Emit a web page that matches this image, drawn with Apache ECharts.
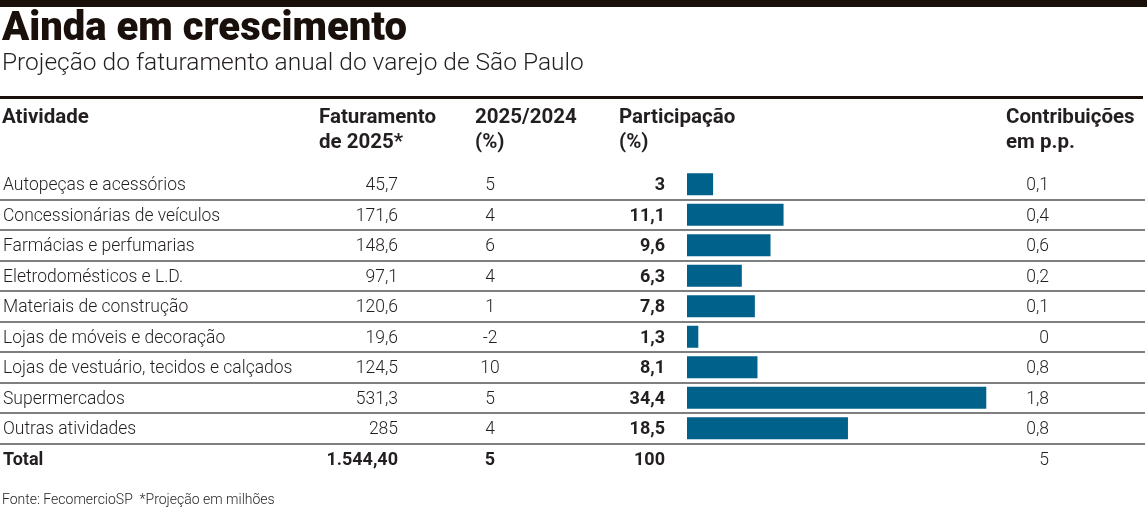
<!DOCTYPE html>
<html>
<head>
<meta charset="utf-8">
<script src="https://cdn.jsdelivr.net/npm/echarts@6/dist/echarts.min.js"></script>
<style>
  html, body { margin: 0; padding: 0; background: #fff; }
  #main { width: 1147px; height: 509px; }
</style>
</head>
<body>
<div id="main"></div>
<script>
const atividades = [
    "Autopeças e acessórios",
    "Concessionárias de veículos",
    "Farmácias e perfumarias",
    "Eletrodomésticos e L.D.",
    "Materiais de construção",
    "Lojas de móveis e decoração",
    "Lojas de vestuário, tecidos e calçados",
    "Supermercados",
    "Outras atividades",
    "Total",
];
const faturamento = ["45,7", "171,6", "148,6", "97,1", "120,6", "19,6", "124,5", "531,3", "285", "1.544,40"];
const variacao = ["5", "4", "6", "4", "1", "-2", "10", "5", "4", "5"];
const participacao = [3, 11.1, 9.6, 6.3, 7.8, 1.3, 8.1, 34.4, 18.5, 100];
const contribuicao = ["0,1", "0,4", "0,6", "0,2", "0,1", "0", "0,8", "1,8", "0,8", "5"];

const chartDom = document.getElementById("main");
const myChart = echarts.init(chartDom);

const FONT = "Roboto, sans-serif";
const INK = "#231f20";
const TOP = 169;
const HEIGHT = 305;
const SIZE = 17.5;
const lastRow = atividades.length - 1;

// comma as decimal mark
const br = (v) => String(v).replace(".", ",");

const boldStyle = { fontFamily: FONT, fontSize: SIZE + 0.5, color: INK, fontWeight: "bold" };

const rowLabel = (bold, extra) => ({
    fontFamily: FONT,
    fontSize: SIZE,
    color: INK,
    fontWeight: 300,
    padding: [3, 0, 0, 0],
    formatter: (value, index) =>
        index === lastRow || bold ? "{b|" + value + "}" : value,
    rich: { b: boldStyle },
    ...extra,
});

const catAxis = (gridIndex, data, label, extra) => ({
    type: "category",
    gridIndex: gridIndex,
    data: data,
    inverse: true,
    axisLine: { show: false },
    axisTick: { show: false },
    axisLabel: label,
    ...extra,
});

const hiddenX = (gridIndex, extra) => ({
    type: "value",
    gridIndex: gridIndex,
    show: false,
    ...extra,
});

// split line colours: no rule above first row or below total
const ruleColors = [];
for (let i = 0; i <= atividades.length; i++) {
    ruleColors.push(i === 0 || i === atividades.length ? "rgba(0,0,0,0)" : "#555");
}

const header = (text, left) => ({
    text: text,
    left: left,
    top: 105,
    padding: 0,
    textStyle: { fontFamily: FONT, fontSize: 20.5, fontWeight: "bold", color: INK, lineHeight: 25 },
});

const option = {
    animation: false,
    backgroundColor: "#fff",
    title: [
        {
            text: "Ainda em crescimento",
            left: 2,
            top: 10,
            padding: 0,
            textStyle: { fontFamily: FONT, fontSize: 40, fontWeight: 900, color: "#1a100b" },
        },
        {
            text: "Projeção do faturamento anual do varejo de São Paulo",
            left: 2,
            top: 51,
            padding: 0,
            textStyle: { fontFamily: FONT, fontSize: 24.5, fontWeight: 300, color: INK },
        },
        header("Atividade", 2),
        header("Faturamento\nde 2025*", 319),
        header("2025/2024\n(%)", 475),
        header("Participação\n(%)", 619),
        header("Contribuições\nem p.p.", 1006),
        {
            text: "Fonte: FecomercioSP  *Projeção em milhões",
            left: 2,
            top: 493,
            padding: 0,
            textStyle: { fontFamily: FONT, fontSize: 14, fontWeight: 300, color: INK },
        },
    ],
    graphic: [
        { type: "rect", shape: { x: 0, y: 0, width: 1147, height: 7 }, style: { fill: "#1a100b" } },
        { type: "rect", shape: { x: 0, y: 96, width: 1143, height: 3 }, style: { fill: "#1a100b" } },
    ],
    grid: [
        { left: 0, right: 2, top: TOP, height: HEIGHT },
        { left: 398, width: 1, top: TOP, height: HEIGHT },
        { left: 490, width: 1, top: TOP, height: HEIGHT },
        { left: 687, width: 348, top: TOP, height: HEIGHT },
        { left: 1049, width: 1, top: TOP, height: HEIGHT },
    ],
    xAxis: [
        hiddenX(0),
        hiddenX(1),
        hiddenX(2),
        hiddenX(3, { min: 0, max: 40 }),
        hiddenX(4),
    ],
    yAxis: [
        catAxis(0, atividades, rowLabel(false, { inside: true, margin: 3, align: "left" }), {
            splitLine: { show: true, interval: 0, lineStyle: { color: ruleColors, width: 1.5 } },
        }),
        catAxis(1, faturamento, rowLabel(false, { margin: 0 })),
        catAxis(2, variacao, rowLabel(false, { margin: 0, align: "center" })),
        catAxis(3, participacao.map(br), rowLabel(true, { margin: 22 })),
        catAxis(4, contribuicao, rowLabel(false, { margin: 0, formatter: (value) => value })),
    ],
    series: [
        {
            type: "bar",
            xAxisIndex: 3,
            yAxisIndex: 3,
            barWidth: 22,
            itemStyle: { color: "#00618a" },
            data: participacao.map((v, i) => (i === lastRow ? "-" : v)),
        },
    ],
};

myChart.setOption(option);
</script>
</body>
</html>
